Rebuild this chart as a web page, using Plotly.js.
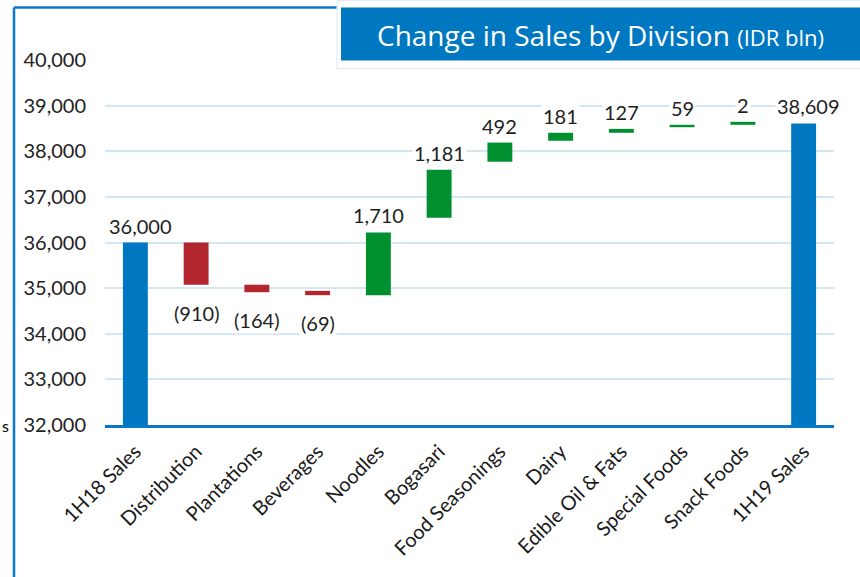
<!DOCTYPE html>
<html>
<head>
<meta charset="utf-8">
<script src="https://cdn.plot.ly/plotly-3.0.1.min.js"></script>
<style>
html,body{margin:0;padding:0;background:#fff;}
#chart{width:860px;height:577px;}
</style>
</head>
<body>
<div id="chart"></div>
<script>
// ---- data (IDR bln) ----
var categories = ["1H18 Sales","Distribution","Plantations","Beverages","Noodles","Bogasari",
  "Food Seasonings","Dairy","Edible Oil & Fats","Special Foods","Snack Foods","1H19 Sales"];
var labelValues = [36000, -910, -164, -69, 1710, 1181, 492, 181, 127, 59, 2, 38609];
var kinds = ["total","neg","neg","neg","pos","pos","pos","pos","pos","pos","pos","total"];
// bar extents as drawn in the picture (IDR bln)
var barLow  = [0, 35075, 34910, 34845, 34845, 36545, 37770, 38230, 38405, 38527, 38580, 0];
var barHigh = [36000, 36000, 35075, 34940, 36220, 37595, 38190, 38405, 38490, 38580, 38645, 38609];
var yTicks = [32000, 33000, 34000, 35000, 36000, 37000, 38000, 39000, 40000];

var kindColor = {total: "#0077c1", neg: "#b3262e", pos: "#00902f"};
var FONT = "Lato, 'Noto Sans', sans-serif";

// plot area in pixels
var L = 105, R = 834, T = 59.5, B = 425;
function px(x){ return (x - L) / (R - L); }
function py(y){ return (B - y) / (B - T); }

var trace = {
  type: "bar",
  x: categories,
  base: barLow,
  y: barHigh.map(function(h, i){ return h - barLow[i]; }),
  width: 0.41,
  marker: {color: kinds.map(function(k){ return kindColor[k]; })},
  hoverinfo: "skip",
  cliponaxis: true
};

function fmt(v){
  var s = Math.abs(v).toLocaleString("en-US");
  return v < 0 ? "(" + s + ")" : s;
}

var annotations = categories.map(function(c, i){
  var neg = kinds[i] === "neg";
  return {
    xref: "x", yref: "y", x: c,
    y: neg ? barLow[i] : barHigh[i],
    text: fmt(labelValues[i]),
    showarrow: false,
    yanchor: neg ? "top" : "bottom",
    yshift: neg ? -14 : 3,
    xshift: kinds[i] === "total" ? 5 : 0,
    bgcolor: "#ffffff",
    font: {family: FONT, size: 20, color: "#1e1e1e"}
  };
});

annotations.push({
  xref: "paper", yref: "paper", x: px(600), y: py(34),
  xanchor: "center", yanchor: "middle", showarrow: false,
  text: 'Change in Sales by Division <span style="font-size:22px">(IDR bln)</span>',
  font: {family: "'Open Sans', 'Noto Sans', sans-serif", size: 28, color: "#ffffff"}
});
annotations.push({
  xref: "paper", yref: "paper", x: px(0), y: py(425),
  xanchor: "left", yanchor: "middle", showarrow: false,
  text: "s", font: {family: FONT, size: 16, color: "#000"}
});

var shapes = [
  // outer frame lines
  {type: "line", xref: "paper", yref: "paper", x0: px(14), x1: px(14), y0: py(7), y1: py(580),
   line: {color: "#0a78c8", width: 2.5}, layer: "above"},
  {type: "line", xref: "paper", yref: "paper", x0: px(14), x1: px(341), y0: py(7), y1: py(7),
   line: {color: "#0a78c8", width: 2.5}, layer: "above"},
  // title box surround
  {type: "rect", xref: "paper", yref: "paper", x0: px(337), x1: px(862), y0: py(0), y1: py(68),
   fillcolor: "#ffffff", line: {color: "#dfe9f1", width: 1}, layer: "above"},
  {type: "rect", xref: "paper", yref: "paper", x0: px(341), x1: px(862), y0: py(7), y1: py(60),
   fillcolor: "#0078c1", line: {width: 0}, layer: "above"}
];

var layout = {
  width: 860, height: 577,
  margin: {l: L, r: 860 - R, t: T, b: 577 - B, pad: 0},
  paper_bgcolor: "#ffffff", plot_bgcolor: "#ffffff",
  showlegend: false,
  bargap: 0.59,
  xaxis: {
    type: "category",
    range: [-0.5, categories.length - 0.5],
    autorange: false,
    tickangle: -45,
    tickfont: {family: FONT, size: 20, color: "#1a1a1a"},
    showline: true, linecolor: "#0a78c8", linewidth: 3,
    showgrid: false, ticks: "", zeroline: false, fixedrange: true,
    ticklabelstandoff: 4
  },
  yaxis: {
    range: [32000, 40000],
    autorange: false,
    tickvals: yTicks,
    ticktext: yTicks.map(function(v){ return v.toLocaleString("en-US"); }),
    tickfont: {family: FONT, size: 20, color: "#222"},
    showgrid: true, gridcolor: "#d3e6f3", gridwidth: 2,
    showline: false, zeroline: false, ticks: "", ticklabelstandoff: 18,
    fixedrange: true
  },
  annotations: annotations,
  shapes: shapes
};

Plotly.newPlot("chart", [trace], layout, {displayModeBar: false, staticPlot: true});
</script>
</body>
</html>
